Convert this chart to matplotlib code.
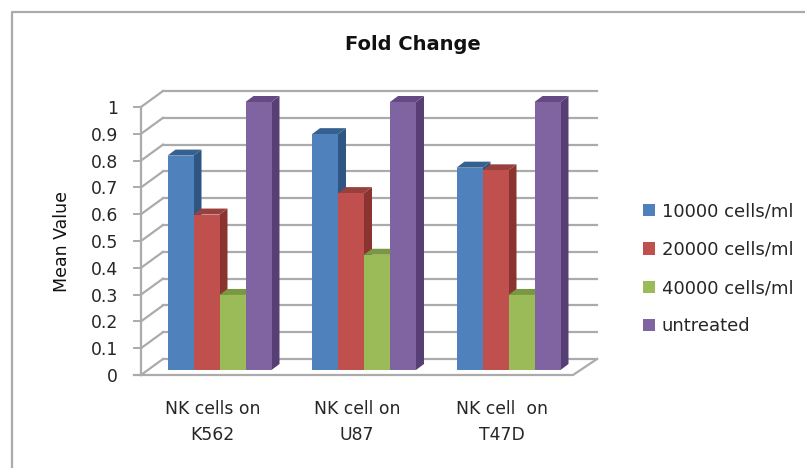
import matplotlib
matplotlib.use("Agg")
import matplotlib.pyplot as plt
from matplotlib.lines import Line2D
from matplotlib.patches import Polygon
import numpy as np

categories = ["NK cells on\nK562", "NK cell on\nU87", "NK cell  on\nT47D"]
series_names = ["10000 cells/ml", "20000 cells/ml", "40000 cells/ml", "untreated"]
values_10000 = [0.80, 0.88, 0.755]
values_20000 = [0.58, 0.66, 0.745]
values_40000 = [0.28, 0.43, 0.28]
values_untreated = [1.0, 1.0, 1.0]
y_ticks = [0, 0.1, 0.2, 0.3, 0.4, 0.5, 0.6, 0.7, 0.8, 0.9, 1]
y_tick_labels = ["0", "0.1", "0.2", "0.3", "0.4", "0.5", "0.6", "0.7", "0.8", "0.9", "1"]

colors = ["#4F81BD", "#C0504D", "#9BBB59", "#8064A2"]
side_colors = ["#2F5583", "#8A3331", "#6F8A3A", "#573F75"]
top_colors = ["#34618F", "#98403D", "#7A9743", "#644A84"]

W, H = 805, 468
group_px = 144.5
value_px = 268.0
x0_px = 219.5
y0_px = 370.0


def dx(px):
    return px / group_px


def dy(px):
    return px / value_px


fig = plt.figure(figsize=(W / 100, H / 100), dpi=100)
ax = fig.add_axes([0, 0, 1, 1])
ax.set_xlim(-x0_px / group_px, (W - x0_px) / group_px)
ax.set_ylim((y0_px - H) / value_px, y0_px / value_px)
ax.axis("off")

grid_color = "#ABABAB"
x = np.arange(len(categories))

# chart border, only left and top are inside the crop
fig.add_artist(Line2D([11.5 / W, 11.5 / W, 1], [0, 1 - 11.5 / H, 1 - 11.5 / H],
                      transform=fig.transFigure, color="#ABABAB", lw=1.6))

# front plane of the axis box sits a little below/left of the bars
fx0, fx1 = dx(141 - x0_px), dx(573 - x0_px)
bx0, bx1 = dx(163 - x0_px), dx(597 - x0_px)
fy, by = dy(-5), dy(11)

for v in y_ticks:
    ax.plot([bx0, bx1], [v + by, v + by], color=grid_color, lw=1.6, zorder=1)
    ax.plot([fx0, bx0], [v + fy, v + by], color=grid_color, lw=1.6, zorder=1)
    ax.plot([dx(134 - x0_px), fx0], [v + fy, v + fy], color=grid_color, lw=1.4, zorder=1)
ax.plot([fx0, fx0], [fy, 1 + fy], color=grid_color, lw=1.6, zorder=1)
ax.plot([dx(134 - x0_px), fx1, bx1], [fy, fy, by], color=grid_color, lw=1.6, zorder=1)

# bars, left to right so each one hides the side of the previous one
width = dx(26)
depth_x, depth_y = dx(8), dy(6)
all_series = [values_10000, values_20000, values_40000, values_untreated]
offsets = (np.arange(4) - 1.5) * width
zorder = 2
for g in x:
    for s, vals in enumerate(all_series):
        left = g + offsets[s] - width / 2
        right = left + width
        v = vals[g]
        ax.add_patch(Polygon([(right, 0), (right + depth_x, depth_y),
                              (right + depth_x, v + depth_y), (right, v)],
                             facecolor=side_colors[s], edgecolor="none", zorder=zorder))
        ax.add_patch(Polygon([(left, v), (right, v), (right + depth_x, v + depth_y),
                              (left + depth_x, v + depth_y)],
                             facecolor=top_colors[s], edgecolor="none", zorder=zorder))
        ax.bar(left, v, width, align="edge", color=colors[s], zorder=zorder + 0.5,
               label=series_names[s] if g == 0 else None)
        zorder += 1

text_color = "#262626"
for v, lab in zip(y_ticks, y_tick_labels):
    ax.text(dx(118 - x0_px), v + fy - dy(2), lab, ha="right", va="center", fontsize=12.4,
            color=text_color)
for g, cat in zip(x, categories):
    ax.text(g - dx(7), dy(370 - 422), cat, ha="center", va="center", fontsize=12.4,
            color=text_color, linespacing=1.6)

ax.text(dx(412.5 - x0_px), dy(370 - 44), "Fold Change", ha="center", va="center",
        fontsize=14, fontweight="bold", color="#111111")
ax.text(dx(62 - x0_px), dy(370 - 242), "Mean Value", ha="center", va="center",
        rotation=90, fontsize=12.5, color="#111111")

ax.legend(loc="center left", bbox_to_anchor=(643 / W, 1 - 269 / H), frameon=False,
          fontsize=12.95, labelspacing=1.13, handlelength=0.68, handleheight=0.68,
          handletextpad=0.35, borderpad=0, borderaxespad=0, labelcolor=text_color)

fig.savefig("out.png", dpi=100)
